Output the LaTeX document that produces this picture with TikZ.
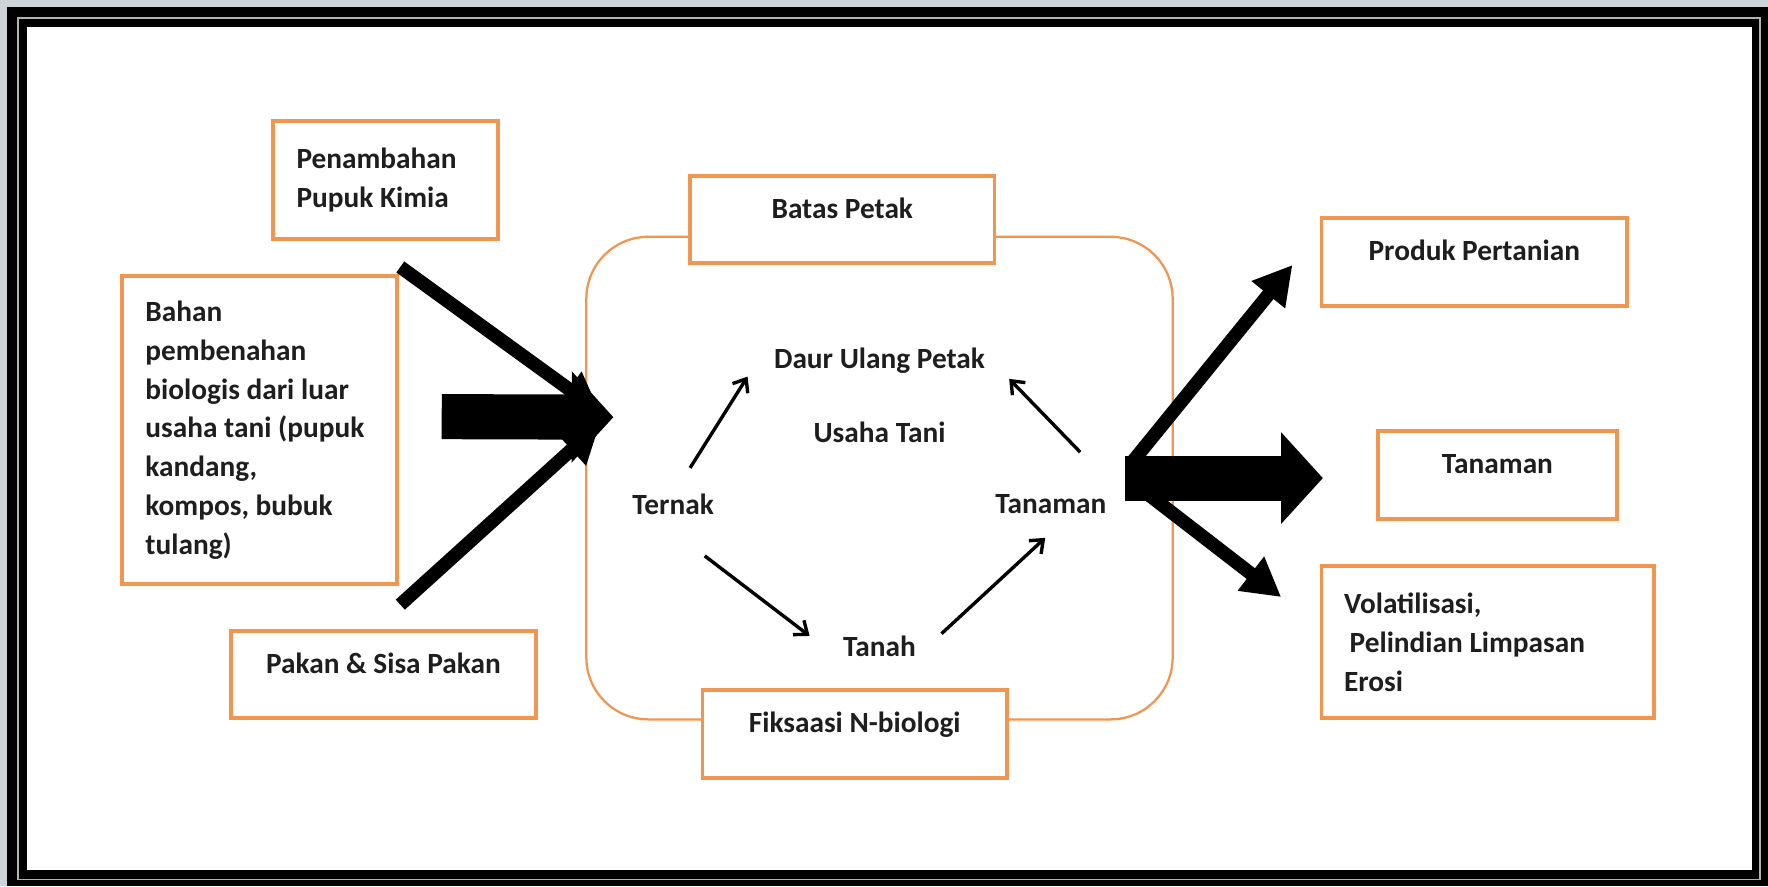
\documentclass[tikz,border=0pt]{standalone}
\usepackage{fontspec}
\setmainfont{Carlito}
\usetikzlibrary{arrows.meta,positioning}

\definecolor{boxorange}{RGB}{240,150,80}
\definecolor{inkgrey}{RGB}{30,30,30}
\definecolor{framegrey}{RGB}{205,212,217}

\tikzset{
  box/.style={draw=boxorange, line width=3.5pt, fill=white, text=inkgrey,
    font=\bfseries\fontsize{26}{34.5}\selectfont},
  onebox/.style={box, text height=19pt, text depth=21pt},
  lbl/.style={text=inkgrey, font=\bfseries\fontsize{26}{34.5}\selectfont},
  roundflow/.style={-{Straight Barb[length=10pt,width=16pt]}, line width=3pt},
  bigflow/.style={-{Triangle[length=34pt,width=36pt]}, line width=12pt},
  fatflow/.style={-{Triangle[length=37pt,width=79pt]}, line width=40pt},
}

\begin{document}
\begin{tikzpicture}[x=1pt,y=-1pt]
  \useasboundingbox (0,0) rectangle (1568,786);
  % frame
  \fill[framegrey] (0,0) rectangle (1568,786);
  \fill[black] (6,6) rectangle (1568,786);
  \draw[gray!60, line width=1.5pt] (16,16) rectangle (1561,780);
  \fill[white] (24,24) rectangle (1554,772);

  % usaha tani
  \node[draw=boxorange, line width=2pt, rounded corners=55pt,
    minimum width=520pt, minimum height=428pt] (farm) at (780,424) {};
  \node[onebox, minimum width=270pt, minimum height=77pt] (border) at (747,194.5) {Batas Petak};
  \node[onebox, minimum width=270pt, minimum height=78pt] (fix) at (758,651) {Fiksaasi N-biologi};

  \node[lbl] (recycle) at (780,320) {Daur Ulang Petak};
  \node[lbl] (farmlbl) at (780,383) {Usaha Tani};
  \node[lbl] (ternak) at (597,447) {Ternak};
  \node[lbl] (tanaman) at (932,447) {Tanaman};
  \node[lbl] (tanah) at (780,573) {Tanah};

  \draw[roundflow] ([shift={(15,-32)}]ternak.center) -- ([shift={(-117,14)}]recycle.center);
  \draw[roundflow] ([shift={(26,-46)}]tanaman.center) -- ([shift={(115,16)}]recycle.center);
  \draw[roundflow] ([shift={(28,46)}]ternak.center) -- ([shift={(-62,-9)}]tanah.center);
  \draw[roundflow] ([shift={(55,-11)}]tanah.center) -- ([shift={(-5,30)}]tanaman.center);

  % inputs
  \node[box, minimum height=105pt, text width=158pt, align=flush left, inner xsep=21pt]
    (chem) at (342,159.5) {Penambahan\\Pupuk Kimia};
  \node[box, minimum height=273pt, text width=202pt, align=flush left, inner xsep=21pt]
    (bio) at (230,381.5) {Bahan\\pembenahan\\biologis dari luar\\usaha tani (pupuk\\kandang,\\kompos, bubuk\\tulang)};
  \node[onebox, minimum width=270pt, minimum height=77pt] (feed) at (340,598.5) {Pakan \& Sisa Pakan};

  \coordinate (inlet) at (544,370);
  \draw[bigflow] ([shift={(13,23)}]chem.south) -- ([shift={(-12,-5)}]inlet);
  \draw[bigflow] ([shift={(15,-22)}]feed.north) -- ([shift={(-12,6)}]inlet);
  \draw[fatflow] ([shift={(38,-12)}]bio.east) -- (inlet);

  % outputs
  \node[onebox, minimum width=271pt, minimum height=78pt] (product) at (1307.5,232) {Produk Pertanian};
  \node[onebox, minimum width=212pt, minimum height=78pt] (crop) at (1328,421) {Tanaman};
  \node[box, minimum height=135pt, text width=255pt, align=flush left, inner xsep=20pt]
    (loss) at (1319.5,569.5) {Volatilisasi,\\\hspace*{5pt}Pelindian Limpasan\\Erosi};

  \coordinate (outlet) at (998,424);
  \draw[bigflow] ([shift={(6,-14)}]outlet) -- ([shift={(-24,3)}]product.west);
  \draw[fatflow] (outlet) -- ([shift={(-47,3)}]crop.west);
  \draw[bigflow] ([shift={(12,8)}]outlet) -- ([shift={(-34,-40)}]loss.west);
\end{tikzpicture}
\end{document}
